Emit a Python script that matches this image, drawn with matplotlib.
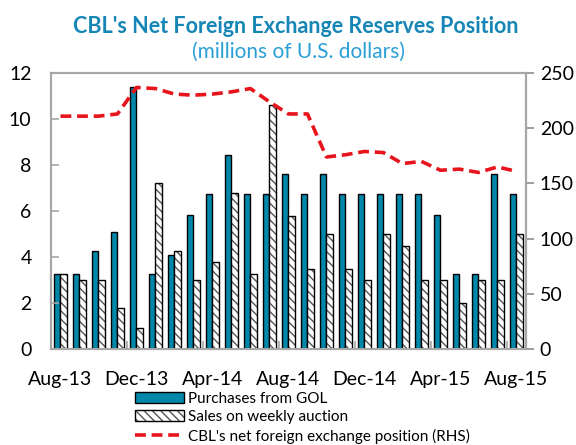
import numpy as np
import matplotlib.pyplot as plt

plt.rcParams['font.family'] = ['Lato', 'DejaVu Sans']

months = ['Aug-13', 'Sep-13', 'Oct-13', 'Nov-13', 'Dec-13', 'Jan-14', 'Feb-14',
          'Mar-14', 'Apr-14', 'May-14', 'Jun-14', 'Jul-14', 'Aug-14', 'Sep-14',
          'Oct-14', 'Nov-14', 'Dec-14', 'Jan-15', 'Feb-15', 'Mar-15', 'Apr-15',
          'May-15', 'Jun-15', 'Jul-15', 'Aug-15']
purchases = [3.25, 3.25, 4.25, 5.1, 11.4, 3.25, 4.1, 5.85, 6.75, 8.45, 6.75, 6.75,
             7.6, 6.75, 7.6, 6.75, 6.75, 6.75, 6.75, 6.75, 5.85, 3.25, 3.25, 7.6, 6.75]
sales = [3.25, 3.0, 3.0, 1.8, 0.9, 7.2, 4.25, 3.0, 3.8, 6.8, 3.25, 10.6,
         5.8, 3.5, 5.0, 3.5, 3.0, 5.0, 4.5, 3.0, 3.0, 2.0, 3.0, 3.0, 5.0]
net_position = [211, 211, 211, 213, 237, 236, 231, 230, 231, 233, 236, 224,
                213, 213, 174, 176, 179, 178, 168, 170, 162, 163, 160, 165, 161]

teal = '#0087A9'
gray = '#A6A6A6'

x = np.arange(len(months))
w = 0.33

fig = plt.figure(figsize=(5.76, 4.45), dpi=100)
ax = fig.add_axes([0.0885, 0.2157, 0.8245, 0.62])
ax2 = ax.twinx()
ax.set_zorder(ax2.get_zorder() + 1)
ax.patch.set_visible(False)

b1 = ax.bar(x - w / 2, purchases, w, color=teal, edgecolor='black', linewidth=1)
b2h = ax.bar(x + w / 2, sales, w, color='white', edgecolor='#555555', linewidth=0,
             hatch='\\\\\\\\')
b2o = ax.bar(x + w / 2, sales, w, fill=False, edgecolor='black', linewidth=1)

# RHS series drawn on the left axes (scaled) so it sits above the bars
ln, = ax.plot(x, np.array(net_position) * 12 / 250, color='#E8141B', lw=2.6,
              dashes=(3, 1.6), zorder=5)

ax.set_xlim(-0.5, len(months) - 0.5)
ax.set_ylim(0, 12)
ax2.set_ylim(0, 250)
ax.set_yticks(range(0, 13, 2))
ax2.set_yticks(range(0, 251, 50))

# boundary tick marks every four months, labels on the months
ax.set_xticks(np.arange(3.5, len(months), 4))
ax.set_xticklabels([])
ax.tick_params(axis='x', which='major', direction='in', length=6, color=gray, width=1.2)
ax.set_xticks(x[::4], minor=True)
ax.set_xticklabels(months[::4], minor=True)
ax.tick_params(axis='x', which='minor', length=0, pad=16, labelsize=14)

ax.tick_params(axis='y', direction='in', length=6, color=gray, width=1.2,
               labelsize=14, pad=14)
ax2.tick_params(axis='y', direction='out', length=6, color='#8C8C8C', width=1.2,
                labelsize=14, pad=4)

for a in (ax, ax2):
    for s in a.spines.values():
        s.set_color(gray)
        s.set_linewidth(1.5)
ax2.spines['right'].set_color('#8C8C8C')

fig.text(0.513, 0.941, "CBL's Net Foreign Exchange Reserves Position", ha='center',
         va='center', fontsize=15.5, fontweight='bold', color='#1586B5')
fig.text(0.518, 0.884, '(millions of U.S. dollars)', ha='center', va='center',
         fontsize=15, color='#2A9FD6')

fig.legend([b1, (b2h, b2o), ln],
           ['Purchases from GOL', 'Sales on weekly auction',
            "CBL's net foreign exchange position (RHS)"],
           loc='upper left', bbox_to_anchor=(0.234, 0.12), frameon=False,
           fontsize=11, handlelength=3.2, handletextpad=0.26, labelspacing=0.3,
           borderaxespad=0, borderpad=0)

fig.savefig('out.png', dpi=100)
